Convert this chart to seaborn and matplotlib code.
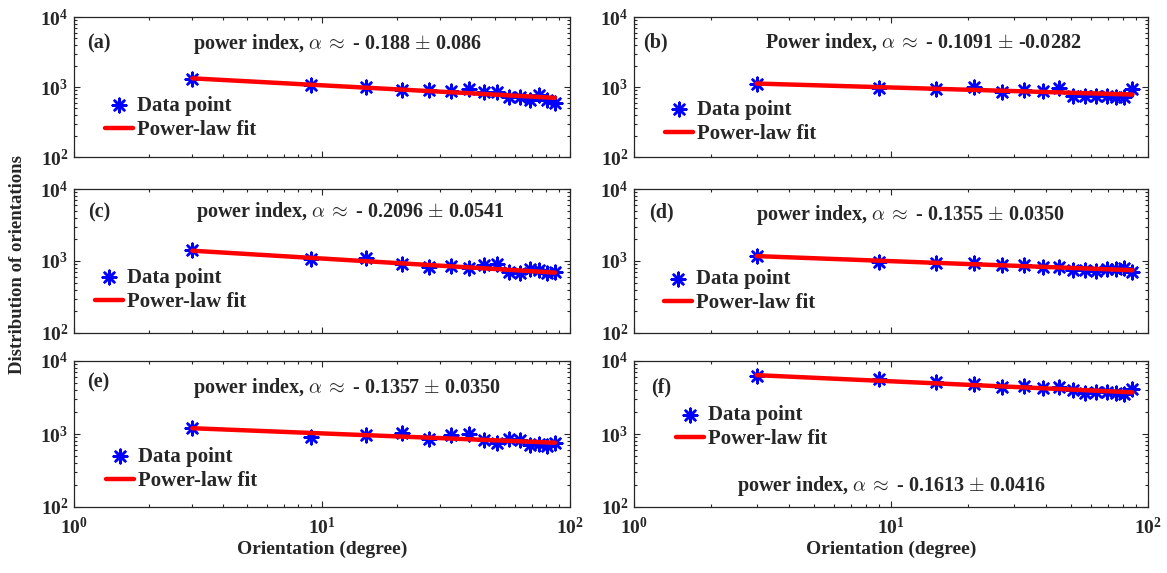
import numpy as np
import pandas as pd
import matplotlib
matplotlib.use("Agg")
import matplotlib.pyplot as plt
import seaborn as sns

# orientation bin centres (degree)
orientation = [3, 9, 15, 21, 27, 33, 39, 45, 51, 57, 63, 69, 75, 81, 87]

# counts per panel
counts_a = [1290, 1070, 1010, 910, 910, 890, 930, 860, 860, 715, 730, 660, 770, 655, 590]
counts_b = [1100, 980, 940, 1000, 860, 900, 870, 960, 740, 740, 750, 740, 730, 720, 950]
counts_c = [1400, 1060, 1100, 920, 830, 860, 790, 870, 900, 710, 690, 780, 760, 690, 710]
counts_d = [1170, 960, 940, 950, 880, 890, 830, 830, 760, 740, 720, 770, 780, 800, 700]
counts_e = [1200, 920, 960, 1030, 860, 960, 1000, 820, 750, 860, 820, 700, 720, 680, 760]
counts_f = [6200, 5600, 5100, 4800, 4400, 4500, 4300, 4400, 4000, 3700, 3800, 3800, 3700, 3500, 4100]

# power-law fit lines: value at first and last orientation
fit_x = [3, 87]
fit_a = [1330, 700]
fit_b = [1120, 780]
fit_c = [1390, 690]
fit_d = [1170, 745]
fit_e = [1200, 760]
fit_f = [6400, 3720]

panel_labels = ["(a)", "(b)", "(c)", "(d)", "(e)", "(f)"]
index_texts = [
    r"power index, $\alpha\,\approx$ - 0.188 $\pm$ 0.086",
    r"Power index, $\alpha\,\approx$ - 0.1091 $\pm$ -0.0282",
    r"power index, $\alpha\,\approx$ - 0.2096 $\pm$ 0.0541",
    r"power index, $\alpha\,\approx$ - 0.1355 $\pm$ 0.0350",
    r"power index, $\alpha\,\approx$ - 0.1357 $\pm$ 0.0350",
    r"power index, $\alpha\,\approx$ - 0.1613 $\pm$ 0.0416",
]

sns.set_style("ticks")
plt.rcParams["font.family"] = ["Liberation Serif", "DejaVu Serif"]
plt.rcParams["font.weight"] = "bold"
plt.rcParams["axes.labelweight"] = "bold"
plt.rcParams["mathtext.fontset"] = "cm"

W, H = 1167, 573
fig = plt.figure(figsize=(W / 100, H / 100), dpi=100)

# axes boxes in pixels: left, top, right, bottom
boxes = [
    (74, 17, 570, 157), (634, 17, 1148, 157),
    (74, 189, 570, 333), (634, 189, 1148, 333),
    (74, 361, 570, 507), (634, 361, 1148, 507),
]
# annotation placement (axes fractions)
label_pos = [(0.026, 0.81), (0.018, 0.82), (0.029, 0.84), (0.03, 0.84), (0.026, 0.85), (0.033, 0.82)]
text_pos = [(0.53, 0.81), (0.562, 0.82), (0.557, 0.84), (0.538, 0.82), (0.55, 0.816), (0.50, 0.145)]
legend_pos = [(0.062, 0.28), (0.06, 0.25), (0.042, 0.30), (0.058, 0.29), (0.064, 0.26), (0.081, 0.546)]

all_counts = [counts_a, counts_b, counts_c, counts_d, counts_e, counts_f]
all_fits = [fit_a, fit_b, fit_c, fit_d, fit_e, fit_f]

fs = 14.5

for i in range(6):
    l, t, r, b = boxes[i]
    ax = fig.add_axes([l / W, 1 - b / H, (r - l) / W, (b - t) / H])
    pts = pd.DataFrame({"x": orientation, "y": all_counts[i]})
    fit = pd.DataFrame({"x": fit_x, "y": all_fits[i]})

    sns.scatterplot(data=pts, x="x", y="y", ax=ax, marker=(8, 2, 0), s=95,
                    color="blue", edgecolor="blue", linewidth=1.8,
                    label="Data point", zorder=2)
    sns.lineplot(data=fit, x="x", y="y", ax=ax, color="red", linewidth=3.2,
                 label="Power-law fit", zorder=3)

    ax.set_xscale("log")
    ax.set_yscale("log")
    ax.set_xlim(1, 100)
    ax.set_ylim(100, 10000)
    ax.set_xlabel("")
    ax.set_ylabel("")
    ax.tick_params(which="both", direction="in", top=True, right=True,
                   labelsize=14, width=0.8, labelcolor="#262626")
    ax.tick_params(which="major", length=4)
    ax.tick_params(which="minor", length=2)
    ax.tick_params(axis="x", pad=7)
    ax.tick_params(axis="y", pad=4)
    for sp in ax.spines.values():
        sp.set_linewidth(0.9)
        sp.set_color("#262626")
    if i < 4:
        ax.set_xticklabels([])
    else:
        ax.set_xlabel("Orientation (degree)", fontsize=14, fontweight="bold",
                      color="#262626", labelpad=2)

    ax.text(*label_pos[i], panel_labels[i], transform=ax.transAxes,
            fontsize=fs, fontweight="bold", va="center", ha="left")
    ax.text(*text_pos[i], index_texts[i], transform=ax.transAxes,
            fontsize=fs, fontweight="bold", va="center", ha="center")

    ax.legend(loc="center left", bbox_to_anchor=legend_pos[i], frameon=False,
              handlelength=1.35, handletextpad=0.2,
              labelspacing=0.2, borderpad=0, borderaxespad=0,
              prop={"weight": "bold", "size": 15})

fig.text(18 / W, 1 - 264 / H, "Distribution of orientations", rotation=90,
         fontsize=13.5, fontweight="bold", color="#262626", va="center", ha="center")

fig.savefig("out.png", dpi=100)
